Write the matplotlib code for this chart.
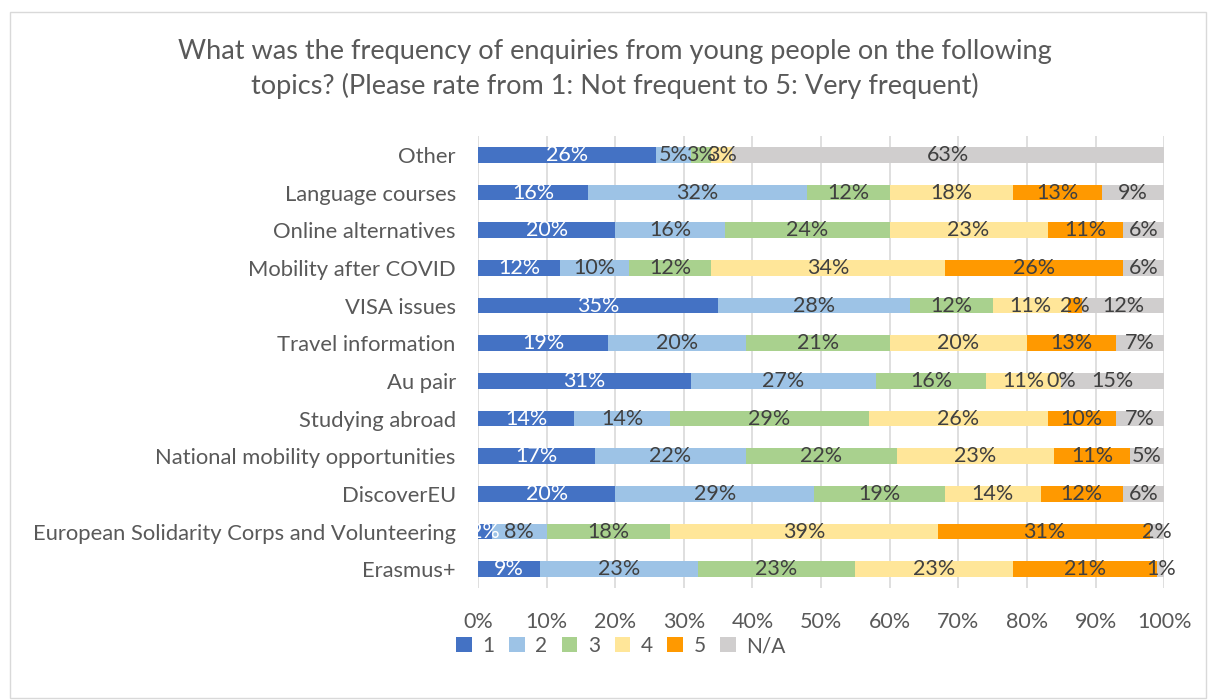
import matplotlib.pyplot as plt
import numpy as np

plt.rcParams['font.family'] = ['Lato', 'DejaVu Sans']

categories = ['Other', 'Language courses', 'Online alternatives', 'Mobility after COVID',
              'VISA issues', 'Travel information', 'Au pair', 'Studying abroad',
              'National mobility opportunities', 'DiscoverEU',
              'European Solidarity Corps and Volunteering', 'Erasmus+']
series_names = ['1', '2', '3', '4', '5', 'N/A']
s1 = [26, 16, 20, 12, 35, 19, 31, 14, 17, 20, 2, 9]
s2 = [5, 32, 16, 10, 28, 20, 27, 14, 22, 29, 8, 23]
s3 = [3, 12, 24, 12, 12, 21, 16, 29, 22, 19, 18, 23]
s4 = [3, 18, 23, 34, 11, 20, 11, 26, 23, 14, 39, 23]
s5 = [None, 13, 11, 26, 2, 13, 0, 10, 11, 12, 31, 21]
sna = [63, 9, 6, 6, 12, 7, 15, 7, 5, 6, 2, 1]
colors = ['#4472C4', '#9DC3E6', '#A9D18E', '#FFE699', '#FF9900', '#D0CECE']

fig = plt.figure(figsize=(12.08, 7.0), dpi=100)
fig.patches.append(plt.Rectangle((0.008, 0.003), 0.99, 0.98, transform=fig.transFigure,
                                 fill=False, edgecolor='#D9D9D9', linewidth=1))
ax = fig.add_axes([0.3957, 0.16, 0.568, 0.6457])

y = np.arange(len(categories))[::-1]
left = np.zeros(len(categories))
for name, vals, col in zip(series_names, [s1, s2, s3, s4, s5, sna], colors):
    v = np.array([np.nan if x is None else x for x in vals], dtype=float)
    w = np.nan_to_num(v)
    ax.barh(y, w / 100, left=left / 100, height=0.42, color=col, label=name, zorder=2)
    tc = 'white' if name == '1' else '#404040'
    for yi, li, vi in zip(y, left, v):
        if np.isnan(vi):
            continue
        ax.text((li + vi / 2) / 100, yi, f'{int(vi)}%', ha='center', va='center',
                fontsize=15.5, color=tc, zorder=3)
    left = left + w

ax.set_xlim(0, 1)
ax.set_ylim(-0.5, len(categories) - 0.5)
ax.set_xticks(np.linspace(0, 1, 11))
ax.set_xticklabels([f'{i}%' for i in range(0, 101, 10)], fontsize=15.5, color='#595959')
ax.set_yticks(y)
ax.set_yticklabels(categories, fontsize=15.8, color='#595959')
ax.tick_params(axis='both', length=0)
ax.tick_params(axis='y', pad=16)
ax.tick_params(axis='x', pad=17)
ax.grid(axis='x', color='#D9D9D9', linewidth=1.2, zorder=0)
for s in ax.spines.values():
    s.set_visible(False)

fig.suptitle('What was the frequency of enquiries from young people on the following\n'
             'topics? (Please rate from 1: Not frequent to 5: Very frequent)',
             x=0.509, y=0.945, fontsize=19.5, color='#595959', linespacing=1.45)

fig.legend(loc='center', bbox_to_anchor=(0.514, 0.077), ncol=6, frameon=False,
           fontsize=15, handlelength=0.75, handleheight=0.75, columnspacing=0.7,
           handletextpad=0.5, labelcolor='#595959')

fig.savefig('out.png', dpi=100)
